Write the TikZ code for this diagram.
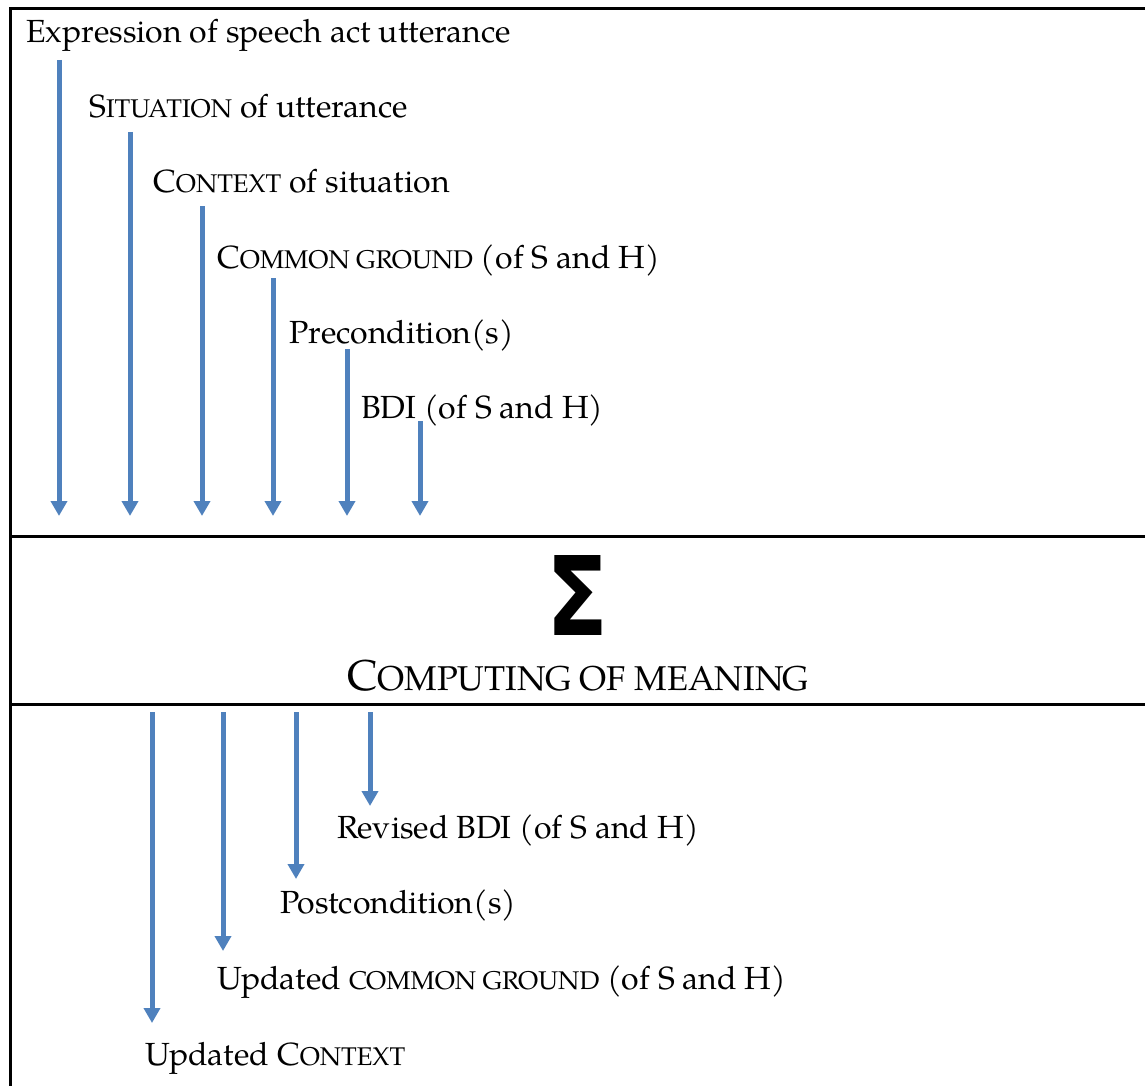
\documentclass[tikz,border=0pt]{standalone}
\usepackage{fontspec}
\setmainfont{texgyrepagella}[Extension=.otf, UprightFont=*-regular, BoldFont=*-bold, ItalicFont=*-italic, BoldItalicFont=*-bolditalic]
\newfontfamily\sigmafont{DejaVu Sans}
\usepackage{graphicx}
\usetikzlibrary{arrows.meta}
\definecolor{flowblue}{HTML}{4F81BD}
\makeatletter
\newcommand\lowcaps[1]{{\fontsize{\fpeval{0.8*\f@size}}{\baselineskip}\selectfont #1}}
\makeatother

\begin{document}
\begin{tikzpicture}[x=1pt,y=-1pt,
				tier/.style={anchor=base west, inner sep=0pt, font=\fontsize{32}{38}\selectfont},
				feed/.style={draw=flowblue, line width=5pt, -{Triangle[width=16pt,length=15pt]}},
				rule/.style={draw=black, line width=3pt}
			]
			\useasboundingbox (0,0) rectangle (1145,1086);
			
			\draw[rule] (1145,9) -| (10,1086);
			\draw[rule] (10,536) -- (1145,536);
			\draw[rule] (10,704) -- (1145,704);
			
			% what goes in
			\node[tier] (in_0) at (26,43) {Expression of speech act utterance};
			\node[tier] (in_1) at (89,118) {S\lowcaps{ITUATION} of utterance};
			\node[tier] (in_2) at (153,193) {C\lowcaps{ONTEXT} of situation};
			\node[tier] (in_3) at (217,268) {C\lowcaps{OMMON GROUND} (of S and H)};
			\node[tier] (in_4) at (289,343) {Precondition(s)};
			\node[tier] (in_5) at (361,418) {BDI (of S and H)};
			
			\coordinate (a_0) at (59,60);   \coordinate (b_0) at (59,516);
			\coordinate (a_1) at (130,132); \coordinate (b_1) at (130,516);
			\coordinate (a_2) at (202,206); \coordinate (b_2) at (202,516);
			\coordinate (a_3) at (273,278); \coordinate (b_3) at (273,516);
			\coordinate (a_4) at (347,349); \coordinate (b_4) at (347,516);
			\coordinate (a_5) at (420,421); \coordinate (b_5) at (420,516);
			
			\draw[feed] (a_0) -- (b_0);
			\draw[feed] (a_1) -- (b_1);
			\draw[feed] (a_2) -- (b_2);
			\draw[feed] (a_3) -- (b_3);
			\draw[feed] (a_4) -- (b_4);
			\draw[feed] (a_5) -- (b_5);
			
			% the sum
			\node[anchor=south, inner sep=0pt] (sum) at (578,636) {\resizebox{62pt}{80pt}{\sigmafont\bfseries Σ}};
			\node[anchor=base, inner sep=0pt, font=\fontsize{43}{50}\selectfont] (comp) at (578,690) {C\lowcaps{OMPUTING OF MEANING}};
			
			% what comes out
			\node[tier] (out_0) at (337,838) {Revised BDI (of S and H)};
			\node[tier] (out_1) at (280,913) {Postcondition(s)};
			\node[tier] (out_2) at (217,989) {Updated \lowcaps{COMMON GROUND} (of S and H)};
			\node[tier] (out_3) at (145,1065) {Updated C\lowcaps{ONTEXT}};
			
			\coordinate (c_0) at (370,712); \coordinate (d_0) at (370,806);
			\coordinate (c_1) at (296,712); \coordinate (d_1) at (296,879);
			\coordinate (c_2) at (223,712); \coordinate (d_2) at (223,951);
			\coordinate (c_3) at (152,712); \coordinate (d_3) at (152,1023);
			
			\draw[feed] (c_0) -- (d_0);
			\draw[feed] (c_1) -- (d_1);
			\draw[feed] (c_2) -- (d_2);
			\draw[feed] (c_3) -- (d_3);
		\end{tikzpicture}
\end{document}
